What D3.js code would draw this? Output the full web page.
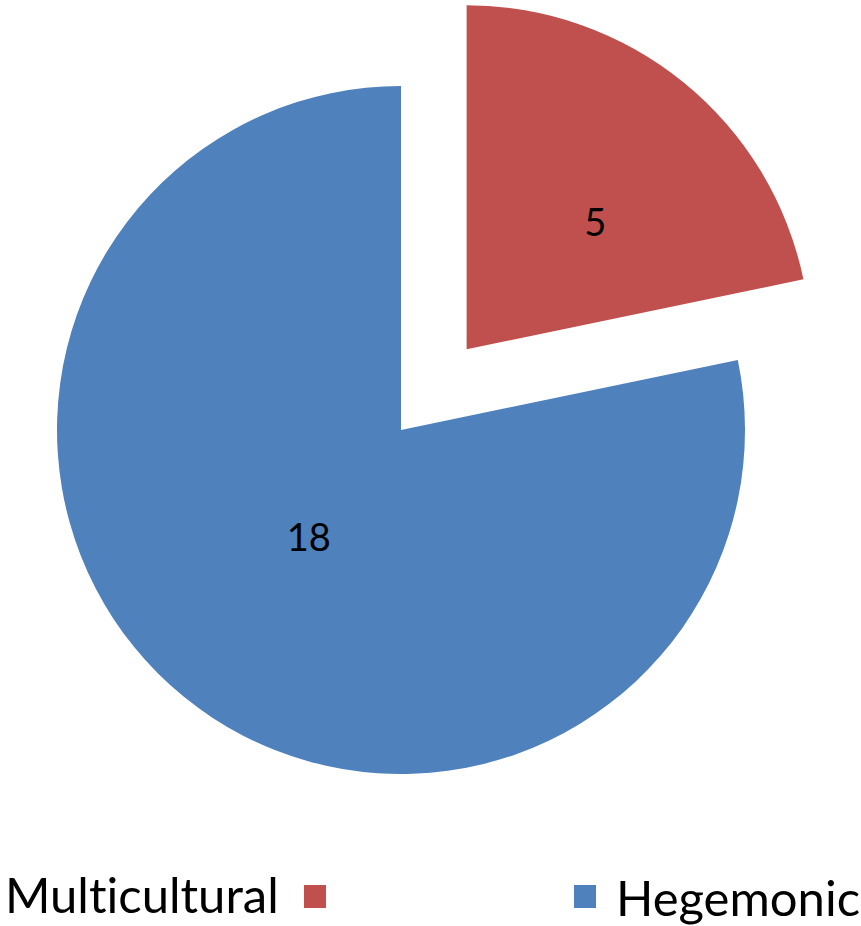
<!DOCTYPE html>
<html>
<head>
<meta charset="utf-8">
<script src="https://cdn.jsdelivr.net/npm/d3@7"></script>
<style>
  html, body { margin: 0; padding: 0; background: #fff; }
  svg { display: block; }
  text {
    font-family: Lato, "Open Sans", sans-serif;
    fill: #000;
    font-variant-ligatures: none;
    font-feature-settings: "liga" 0, "dlig" 0;
  }
</style>
</head>
<body>
<svg id="chart" width="861" height="926"></svg>
<script>
// Share of cases by type
const categories = ["Multicultural", "Hegemonic"];
const values = [5, 18];
const colors = ["#C0504D", "#4F81BD"];
const exploded = [true, false];

const W = 861, H = 926;
const cx = 401, cy = 430, radius = 344;
const explodeDist = 104;

// label placement: fraction of radius and angular nudge (radians) per slice
const labelFrac = [0.525, 0.412];
const labelNudge = [0.11, 0.025];

const svg = d3.select("#chart");

const pie = d3.pie().sort(null).value(d => d.value);
const arcs = pie(categories.map((c, i) => ({ name: c, value: values[i], i })));

const arc = d3.arc().innerRadius(0).outerRadius(radius);
const color = d3.scaleOrdinal().domain(categories).range(colors);

const g = svg.append("g").attr("transform", `translate(${cx},${cy})`);

const slices = g.selectAll("g.slice")
  .data(arcs)
  .join("g")
  .attr("class", "slice")
  .attr("transform", d => {
    if (!exploded[d.data.i]) return null;
    const mid = (d.startAngle + d.endAngle) / 2;
    return `translate(${explodeDist * Math.sin(mid)},${-explodeDist * Math.cos(mid)})`;
  });

slices.append("path")
  .attr("d", arc)
  .attr("fill", d => color(d.data.name));

slices.append("text")
  .attr("transform", d => {
    const mid = (d.startAngle + d.endAngle) / 2 + labelNudge[d.data.i];
    const r = radius * labelFrac[d.data.i];
    return `translate(${r * Math.sin(mid)},${-r * Math.cos(mid)})`;
  })
  .attr("text-anchor", "middle")
  .attr("dy", "0.36em")
  .style("font-size", "38px")
  .text(d => d.data.value);

// Legend
const legend = svg.append("g").attr("class", "legend");
const legendItems = [
  { name: categories[0], textX: 5, sqX: 304, baseline: 913 },
  { name: categories[1], textX: 616, sqX: 574, baseline: 916 }
];
legendItems.forEach(it => {
  legend.append("rect")
    .attr("x", it.sqX).attr("y", 885)
    .attr("width", 22).attr("height", 23)
    .attr("fill", color(it.name));
  legend.append("text")
    .attr("x", it.textX).attr("y", it.baseline)
    .style("font-size", "49px")
    .text(it.name);
});
</script>
</body>
</html>
